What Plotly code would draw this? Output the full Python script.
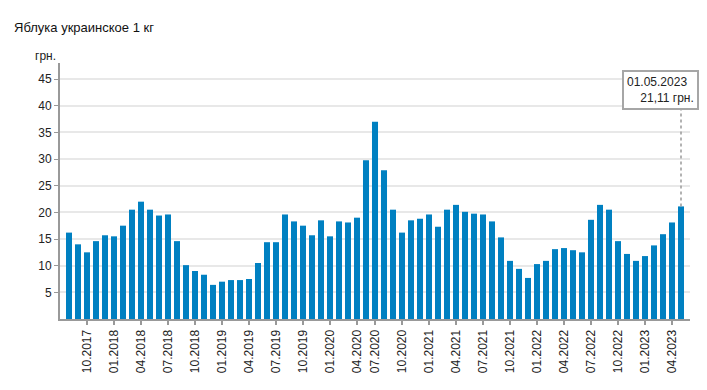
import plotly.graph_objects as go

months = [
    "08.2017", "09.2017", "10.2017", "11.2017", "12.2017",
    "01.2018", "02.2018", "03.2018", "04.2018", "05.2018", "06.2018", "07.2018",
    "08.2018", "09.2018", "10.2018", "11.2018", "12.2018",
    "01.2019", "02.2019", "03.2019", "04.2019", "05.2019", "06.2019", "07.2019",
    "08.2019", "09.2019", "10.2019", "11.2019", "12.2019",
    "01.2020", "02.2020", "03.2020", "04.2020", "05.2020", "07.2020",
    "08.2020", "09.2020", "10.2020", "11.2020", "12.2020",
    "01.2021", "02.2021", "03.2021", "04.2021", "05.2021", "06.2021", "07.2021",
    "08.2021", "09.2021", "10.2021", "11.2021", "12.2021",
    "01.2022", "02.2022", "03.2022", "04.2022", "05.2022", "06.2022", "07.2022",
    "08.2022", "09.2022", "10.2022", "11.2022", "12.2022",
    "01.2023", "02.2023", "03.2023", "04.2023", "05.2023",
]

prices = [
    16.2, 14.0, 12.5, 14.6, 15.7,
    15.5, 17.5, 20.5, 22.0, 20.5, 19.4, 19.6,
    14.6, 10.1, 9.0, 8.3, 6.4,
    7.0, 7.3, 7.3, 7.5, 10.5, 14.4, 14.4,
    19.6, 18.3, 17.5, 15.7, 18.5,
    15.5, 18.3, 18.1, 19.0, 29.75, 37.0,
    27.9, 20.5, 16.2, 18.5, 18.8,
    19.6, 17.3, 20.5, 21.4, 20.1, 19.75, 19.6,
    18.3, 15.3, 10.9, 9.4, 7.7,
    10.3, 10.9, 13.1, 13.3, 12.9, 12.5, 18.6,
    21.4, 20.5, 14.6, 12.2, 10.9,
    11.8, 13.8, 15.9, 18.1, 21.11,
]

tick_months = [
    "10.2017", "01.2018", "04.2018", "07.2018", "10.2018", "01.2019",
    "04.2019", "07.2019", "10.2019", "01.2020", "04.2020", "07.2020",
    "10.2020", "01.2021", "04.2021", "07.2021", "10.2021", "01.2022",
    "04.2022", "07.2022", "10.2022", "01.2023", "04.2023",
]

y_ticks = [5, 10, 15, 20, 25, 30, 35, 40, 45]

title_text = "Яблука украинское 1 кг"
unit_text = "грн."
tip_date = "01.05.2023"
tip_value = "21,11 грн."

FONT = "Liberation Sans, Arial, sans-serif"

# page body has an 8px default margin; size the figure to fit inside it
OFF = 8
W, H = 707 - 2 * OFF, 390 - 2 * OFF
ml, mt = 60 - OFF, 63 - OFF
mr = (W + OFF) - 690
mb = (H + OFF) - 322
pw, ph = W - ml - mr, H - mt - mb


def px_to_paper(px, py):
    return (px - OFF - ml) / pw, 1 - (py - OFF - mt) / ph


fig = go.Figure()
fig.add_trace(go.Bar(
    x=months, y=prices,
    marker=dict(color="#0080c1", line=dict(width=0)),
    hoverinfo="skip",
))

last_i = len(months) - 1
last_y = prices[-1]

fig.add_shape(
    type="line", xref="x", yref="y",
    x0=last_i, x1=last_i, y0=last_y, y1=39.9,
    line=dict(color="#999999", width=1.5, dash="dot"),
)

fig.add_annotation(
    x=last_i, y=43.0, xref="x", yref="y",
    text=tip_date + "<br>" + "&nbsp;" * 4 + tip_value,
    showarrow=False, align="left",
    xanchor="center", yanchor="middle", xshift=-21,
    font=dict(family=FONT, size=12, color="#222222"),
    bgcolor="white", bordercolor="#a6a6a6", borderwidth=2, borderpad=3,
)

tx, ty = px_to_paper(12, 27)
fig.add_annotation(
    x=tx, y=ty, xref="paper", yref="paper", text=title_text,
    showarrow=False, xanchor="left", yanchor="middle",
    font=dict(family=FONT, size=13, color="#111111"),
)
ux, uy = px_to_paper(58, 56)
fig.add_annotation(
    x=ux, y=uy, xref="paper", yref="paper", text=unit_text,
    showarrow=False, xanchor="right", yanchor="middle",
    font=dict(family=FONT, size=12, color="#222222"),
)

fig.update_layout(
    width=W, height=H,
    margin=dict(l=ml, r=mr, t=mt, b=mb, pad=0),
    paper_bgcolor="white", plot_bgcolor="white",
    showlegend=False, bargap=0.33,
    font=dict(family=FONT, size=12, color="#222222"),
    xaxis=dict(
        type="category", range=[-1, len(months)],
        tickmode="array", tickvals=tick_months, ticktext=tick_months,
        tickangle=-90, ticks="outside", ticklen=4, tickwidth=2, tickcolor="#999999",
        showline=True, linecolor="#999999", linewidth=2,
        showgrid=False, zeroline=False,
        tickfont=dict(family=FONT, size=12, color="#222222"),
    ),
    yaxis=dict(
        range=[0, 48], tickmode="array", tickvals=y_ticks,
        ticks="outside", ticklen=4, tickwidth=1, tickcolor="#999999",
        showline=True, linecolor="#999999", linewidth=2,
        showgrid=True, gridcolor="#e8e8e8", gridwidth=2,
        zeroline=False,
        tickfont=dict(family=FONT, size=12, color="#222222"),
    ),
)

fig.write_html("out.html")
